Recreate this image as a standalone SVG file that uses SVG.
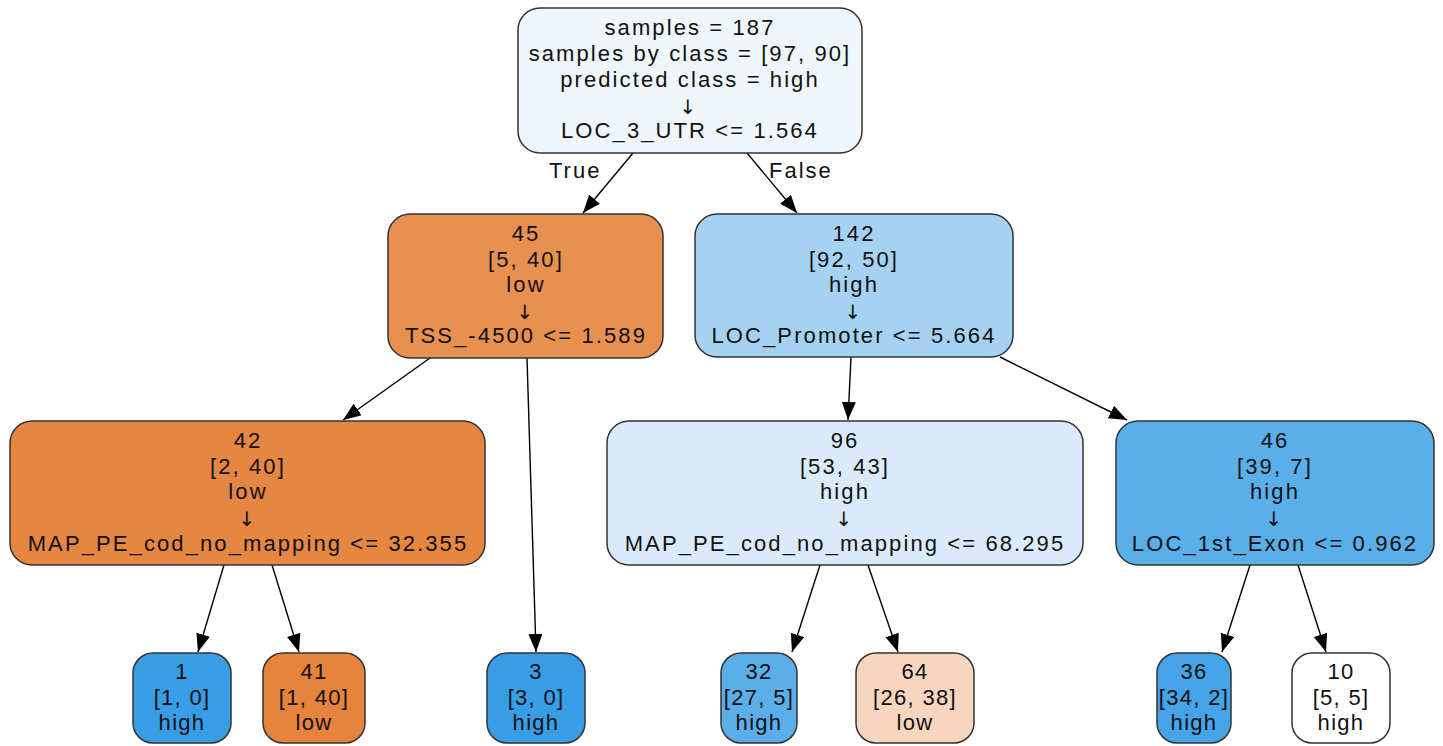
<svg xmlns="http://www.w3.org/2000/svg" width="1443" height="746" viewBox="0 0 1443 746">
  <style>
    .box { stroke: #333333; stroke-width: 1.5; }
    .t { font-family: "Liberation Sans", Arial, sans-serif; font-size: 22px; letter-spacing: 2.1px; fill: #111111; text-anchor: middle; }
    .leaf .t { letter-spacing: 1.3px; }
    .ar { font-family: "DejaVu Sans", sans-serif; font-size: 20px; fill: #111111; text-anchor: middle; }
    .edge { stroke: #000000; stroke-width: 1.4; fill: none; marker-end: url(#arrow); }
    .lbl { font-family: "Liberation Sans", Arial, sans-serif; font-size: 22px; letter-spacing: 2px; fill: #111111; }
  </style>
  <defs>
    <marker id="arrow" markerUnits="userSpaceOnUse" markerWidth="20" markerHeight="16" refX="18" refY="7" orient="auto">
      <path d="M0,0 L18,7 L0,14 Z" fill="#000000"/>
    </marker>
  </defs>
  <rect width="1443" height="746" fill="#ffffff"/>

  <!-- connectors -->
  <g id="edges">
    <line class="edge" x1="633" y1="153" x2="583" y2="213"/>
    <line class="edge" x1="747" y1="153" x2="797" y2="213"/>
    <line class="edge" x1="430" y1="358" x2="343" y2="420"/>
    <line class="edge" x1="527" y1="358" x2="536" y2="652"/>
    <line class="edge" x1="851" y1="357" x2="848" y2="420"/>
    <line class="edge" x1="1000" y1="357" x2="1127" y2="420"/>
    <line class="edge" x1="224" y1="565" x2="198" y2="652"/>
    <line class="edge" x1="272" y1="565" x2="299" y2="652"/>
    <line class="edge" x1="820" y1="565" x2="792" y2="652"/>
    <line class="edge" x1="868" y1="565" x2="898" y2="652"/>
    <line class="edge" x1="1250" y1="565" x2="1222" y2="652"/>
    <line class="edge" x1="1298" y1="565" x2="1326" y2="652"/>
    <text class="lbl" x="549" y="178">True</text>
    <text class="lbl" x="769" y="178">False</text>
  </g>

  <!-- root split -->
  <g id="node0">
    <rect class="box" x="518" y="8" width="344" height="145" rx="22" fill="#eff7fd"/>
    <text class="t" x="690" y="35">samples = 187</text>
    <text class="t" x="690" y="61">samples by class = [97, 90]</text>
    <text class="t" x="690" y="87">predicted class = high</text>
    <text class="ar" x="688" y="114">↓</text>
    <text class="t" x="690" y="138">LOC_3_UTR &lt;= 1.564</text>
  </g>

  <g id="node1">
    <rect class="box" x="388" y="214" width="275" height="144" rx="22" fill="#e89050"/>
    <text class="t" x="526" y="241">45</text>
    <text class="t" x="526" y="267">[5, 40]</text>
    <text class="t" x="526" y="292">low</text>
    <text class="ar" x="525" y="319">↓</text>
    <text class="t" x="526" y="343">TSS_-4500 &lt;= 1.589</text>
  </g>

  <g id="node2">
    <rect class="box" x="695" y="214" width="318" height="143" rx="22" fill="#a5d2f3"/>
    <text class="t" x="854" y="241">142</text>
    <text class="t" x="854" y="267">[92, 50]</text>
    <text class="t" x="854" y="292">high</text>
    <text class="ar" x="853" y="319">↓</text>
    <text class="t" x="854" y="343">LOC_Promoter &lt;= 5.664</text>
  </g>

  <g id="node3">
    <rect class="box" x="10" y="421" width="475" height="144" rx="22" fill="#e58643"/>
    <text class="t" x="248" y="448">42</text>
    <text class="t" x="248" y="474">[2, 40]</text>
    <text class="t" x="248" y="499">low</text>
    <text class="ar" x="247" y="526">↓</text>
    <text class="t" x="248" y="551">MAP_PE_cod_no_mapping &lt;= 32.355</text>
  </g>

  <g id="node4">
    <rect class="box" x="607" y="421" width="476" height="144" rx="22" fill="#d9ebfa"/>
    <text class="t" x="845" y="448">96</text>
    <text class="t" x="845" y="474">[53, 43]</text>
    <text class="t" x="845" y="499">high</text>
    <text class="ar" x="844" y="526">↓</text>
    <text class="t" x="845" y="551">MAP_PE_cod_no_mapping &lt;= 68.295</text>
  </g>

  <g id="node5">
    <rect class="box" x="1116" y="421" width="318" height="144" rx="22" fill="#5aaee9"/>
    <text class="t" x="1275" y="448">46</text>
    <text class="t" x="1275" y="474">[39, 7]</text>
    <text class="t" x="1275" y="499">high</text>
    <text class="ar" x="1274" y="526">↓</text>
    <text class="t" x="1275" y="551">LOC_1st_Exon &lt;= 0.962</text>
  </g>

  <!-- leaves -->
  <g id="leaf1" class="leaf">
    <rect class="box" x="133" y="653" width="98" height="90" rx="20" fill="#399de5"/>
    <text class="t" x="182" y="679">1</text>
    <text class="t" x="182" y="705">[1, 0]</text>
    <text class="t" x="182" y="730">high</text>
  </g>
  <g id="leaf41" class="leaf">
    <rect class="box" x="263" y="653" width="102" height="90" rx="20" fill="#e6843e"/>
    <text class="t" x="314" y="679">41</text>
    <text class="t" x="314" y="705">[1, 40]</text>
    <text class="t" x="314" y="730">low</text>
  </g>
  <g id="leaf3" class="leaf">
    <rect class="box" x="487" y="653" width="98" height="90" rx="20" fill="#399de5"/>
    <text class="t" x="536" y="679">3</text>
    <text class="t" x="536" y="705">[3, 0]</text>
    <text class="t" x="536" y="730">high</text>
  </g>
  <g id="leaf32" class="leaf">
    <rect class="box" x="721" y="653" width="76" height="90" rx="20" fill="#5caeea"/>
    <text class="t" x="759" y="679">32</text>
    <text class="t" x="759" y="705">[27, 5]</text>
    <text class="t" x="759" y="730">high</text>
  </g>
  <g id="leaf64" class="leaf">
    <rect class="box" x="856" y="653" width="118" height="90" rx="20" fill="#f6d6be"/>
    <text class="t" x="915" y="679">64</text>
    <text class="t" x="915" y="705">[26, 38]</text>
    <text class="t" x="915" y="730">low</text>
  </g>
  <g id="leaf36" class="leaf">
    <rect class="box" x="1157" y="653" width="74" height="90" rx="20" fill="#45a3e7"/>
    <text class="t" x="1194" y="679">36</text>
    <text class="t" x="1194" y="705">[34, 2]</text>
    <text class="t" x="1194" y="730">high</text>
  </g>
  <g id="leaf10" class="leaf">
    <rect class="box" x="1292" y="653" width="98" height="90" rx="20" fill="#ffffff"/>
    <text class="t" x="1341" y="679">10</text>
    <text class="t" x="1341" y="705">[5, 5]</text>
    <text class="t" x="1341" y="730">high</text>
  </g>
</svg>
